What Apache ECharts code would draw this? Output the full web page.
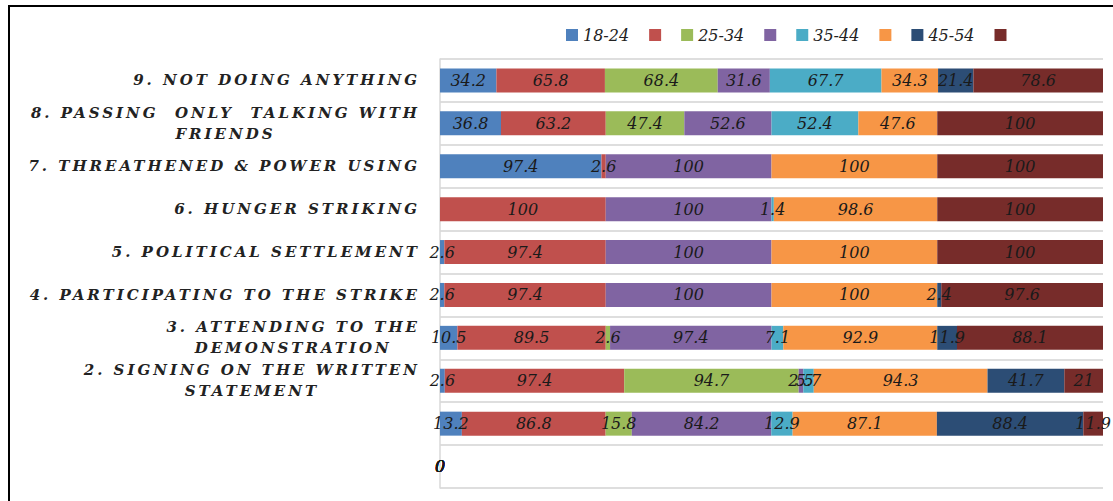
<!DOCTYPE html>
<html><head><meta charset="utf-8">
<script src="https://cdn.jsdelivr.net/npm/echarts@6/dist/echarts.min.js"></script>
<style>
html,body{margin:0;padding:0;background:#fff;overflow:hidden;}
#chart{position:absolute;left:0;top:0;width:1113px;height:501px;}
#frame{position:absolute;left:8px;top:5px;width:1110px;height:500px;border-top:2px solid #000;border-left:2px solid #000;pointer-events:none;}
#chart svg text[style*="bold"]{letter-spacing:3px;}
</style></head><body>
<div id="chart"></div><div id="frame"></div>
<script>
// Categories from bottom to top
const categories = ['', ' ',
  '2. SIGNING ON THE WRITTEN\nSTATEMENT',
  '3. ATTENDING TO THE\nDEMONSTRATION',
  '4. PARTICIPATING TO THE STRIKE',
  '5. POLITICAL SETTLEMENT',
  '6. HUNGER STRIKING',
  '7. THREATHENED & POWER USING',
  '8. PASSING  ONLY  TALKING WITH\nFRIENDS',
  '9. NOT DOING ANYTHING'];

const legendLabels = ['18-24', '', '25-34', '', '35-44', '', '45-54', ''];
const seriesColors = ['#4F81BD', '#C0504D', '#9BBB59', '#8064A2', '#4BACC6', '#F79646', '#2C4D75', '#772C2A'];

const s1 = [0, 13.2, 2.6, 10.5, 2.6, 2.6, null, 97.4, 36.8, 34.2];
const s2 = [0, 86.8, 97.4, 89.5, 97.4, 97.4, 100, 2.6, 63.2, 65.8];
const s3 = [0, 15.8, 94.7, 2.6, null, null, null, null, 47.4, 68.4];
const s4 = [0, 84.2, 2.5, 97.4, 100, 100, 100, 100, 52.6, 31.6];
const s5 = [0, 12.9, 5.7, 7.1, null, null, 1.4, null, 52.4, 67.7];
const s6 = [0, 87.1, 94.3, 92.9, 100, 100, 98.6, 100, 47.6, 34.3];
const s7 = [0, 88.4, 41.7, 11.9, 2.4, null, null, null, null, 21.4];
const s8 = [0, 11.9, 21, 88.1, 97.6, 100, 100, 100, 100, 78.6];
const allSeries = [s1, s2, s3, s4, s5, s6, s7, s8];

// 100% stacked: normalise per category
const totals = categories.map((c, j) => allSeries.reduce((a, s) => a + (s[j] == null ? 0 : s[j]), 0));
const seriesData = allSeries.map(s => s.map((v, j) => v == null ? null : { value: totals[j] ? v / totals[j] * 100 : 0, raw: v }));
const seriesNames = legendLabels.map((l, i) => l || ('_s' + i));

const LS = 3, CAT_FONT = 15, CAT_FAMILY = 'DejaVu Serif';
const ctx = document.createElement('canvas').getContext('2d');
ctx.font = 'italic bold ' + CAT_FONT + 'px "' + CAT_FAMILY + '"';
const baseStyle = { fontFamily: CAT_FAMILY, fontStyle: 'italic', fontWeight: 'bold', fontSize: CAT_FONT, color: '#222', lineHeight: 21 };
const rich = { a: Object.assign({}, baseStyle) };
categories.forEach((c, j) => {
  const parts = c.split('\n');
  if (parts.length > 1) {
    const w = ctx.measureText(parts[0]).width + LS * parts[0].length;
    rich['c' + j] = Object.assign({}, baseStyle, { width: w, align: 'center' });
  }
});

const chart = echarts.init(document.getElementById('chart'), null, { renderer: 'svg' });
chart.setOption({
  animation: false,
  backgroundColor: 'transparent',
  legend: {
    top: 22, left: 561, itemWidth: 12, itemHeight: 12, itemGap: 20, icon: 'rect',
    data: seriesNames,
    formatter: n => legendLabels[seriesNames.indexOf(n)],
    textStyle: { fontFamily: 'DejaVu Serif', fontStyle: 'italic', fontSize: 16, color: '#222' }
  },
  grid: { left: 440, right: 10, top: 59, bottom: 13, containLabel: false, outerBoundsMode: 'none' },
  xAxis: { type: 'value', min: 0, max: 100, show: false },
  yAxis: {
    type: 'category', data: categories,
    axisTick: { show: false },
    axisLine: { show: true, lineStyle: { color: '#d9d9d9', width: 1.5 } },
    splitLine: { show: true, lineStyle: { color: '#dedede', width: 2 } },
    axisLabel: {
      margin: 20, rich: rich,
      formatter: (v, j) => {
        const parts = v.split('\n');
        if (!v.trim()) return '';
        if (parts.length > 1) return '{a|' + parts[0] + '}\n{c' + j + '|' + parts[1] + '}';
        return '{a|' + v + '}';
      }
    }
  },
  series: seriesNames.map((nm, i) => ({
    type: 'bar', name: nm, stack: 'total', barWidth: 24,
    itemStyle: { color: seriesColors[i] },
    label: {
      show: true, position: 'inside',
      formatter: p => (p.data && p.data.raw != null) ? String(p.data.raw) : '',
      fontFamily: 'DejaVu Serif', fontStyle: 'italic', fontSize: 16, color: '#1a1a1a', textBorderWidth: 0
    },
    data: seriesData[i]
  }))
});
</script>
</body></html>
